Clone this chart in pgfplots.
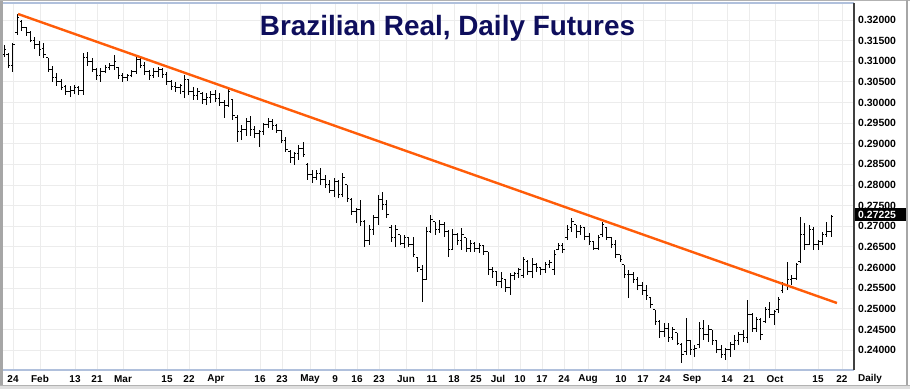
\documentclass[border=0pt]{standalone}
\usepackage{pgfplots}
\usepackage{pgfplotstable}
\pgfplotsset{compat=1.18}
\usepackage{fontspec}
\setmainfont{Liberation Sans}
\definecolor{navy}{RGB}{14,14,92}
\definecolor{trend}{RGB}{255,92,8}
\definecolor{gridc}{RGB}{236,236,236}
\definecolor{frameblue}{RGB}{176,192,220}
\pgfplotstableread{
i hi lo op cl
0 0.31394 0.31103 0.31152 0.31273
1 0.31200 0.30837 0.31152 0.30886
2 0.31442 0.30740 0.30886 0.31394
3 0.32146 0.31637 0.31685 0.32049
4 0.32000 0.31734 0.31952 0.31806
5 0.31830 0.31613 0.31806 0.31685
6 0.31734 0.31467 0.31685 0.31515
7 0.31588 0.31297 0.31515 0.31394
8 0.31491 0.31128 0.31394 0.31273
9 0.31442 0.31079 0.31321 0.31152
10 0.31079 0.30740 0.31079 0.30788
11 0.30886 0.30498 0.30788 0.30594
12 0.30715 0.30401 0.30594 0.30498
13 0.30570 0.30303 0.30498 0.30352
14 0.30425 0.30182 0.30376 0.30255
15 0.30401 0.30133 0.30255 0.30303
16 0.30425 0.30206 0.30303 0.30352
17 0.30401 0.30182 0.30352 0.30279
18 0.31200 0.30182 0.30303 0.31079
19 0.31225 0.30886 0.31079 0.30983
20 0.31079 0.30740 0.30983 0.30788
21 0.30837 0.30546 0.30788 0.30643
22 0.30837 0.30498 0.30643 0.30740
23 0.30910 0.30715 0.30740 0.30837
24 0.30958 0.30788 0.30837 0.30886
25 0.31152 0.30788 0.30886 0.30983
26 0.30861 0.30570 0.30837 0.30643
27 0.30715 0.30498 0.30643 0.30594
28 0.30691 0.30522 0.30594 0.30643
29 0.30788 0.30618 0.30643 0.30740
30 0.31128 0.30691 0.30740 0.31031
31 0.31079 0.30837 0.31031 0.30886
32 0.30983 0.30667 0.30886 0.30740
33 0.30788 0.30546 0.30740 0.30643
34 0.30837 0.30594 0.30643 0.30740
35 0.30861 0.30618 0.30740 0.30788
36 0.30837 0.30594 0.30788 0.30667
37 0.30740 0.30425 0.30667 0.30498
38 0.30546 0.30303 0.30498 0.30376
39 0.30498 0.30255 0.30376 0.30352
40 0.30449 0.30206 0.30352 0.30401
41 0.30667 0.30109 0.30255 0.30546
42 0.30546 0.30182 0.30546 0.30255
43 0.30376 0.30061 0.30255 0.30158
44 0.30352 0.30061 0.30158 0.30255
45 0.30255 0.29964 0.30230 0.30061
46 0.30230 0.29940 0.30061 0.30133
47 0.30279 0.29988 0.30133 0.30182
48 0.30303 0.30013 0.30182 0.30109
49 0.30230 0.29916 0.30109 0.29988
50 0.30061 0.29625 0.29988 0.29916
51 0.30352 0.29891 0.29916 0.30255
52 0.30061 0.29576 0.30061 0.29674
53 0.29698 0.29043 0.29625 0.29286
54 0.29455 0.29091 0.29286 0.29334
55 0.29625 0.29189 0.29334 0.29528
56 0.29674 0.29189 0.29528 0.29334
57 0.29431 0.29140 0.29334 0.29237
58 0.29334 0.28921 0.29237 0.29286
59 0.29503 0.29213 0.29286 0.29455
60 0.29625 0.29382 0.29455 0.29528
61 0.29601 0.29334 0.29528 0.29431
62 0.29479 0.29261 0.29431 0.29310
63 0.29334 0.29018 0.29310 0.29091
64 0.29164 0.28801 0.29091 0.28849
65 0.28849 0.28534 0.28801 0.28655
66 0.28801 0.28486 0.28655 0.28752
67 0.28970 0.28607 0.28752 0.28897
68 0.29043 0.28679 0.28897 0.28728
69 0.28534 0.28122 0.28486 0.28243
70 0.28364 0.28049 0.28243 0.28194
71 0.28364 0.28122 0.28194 0.28291
72 0.28413 0.28001 0.28291 0.28122
73 0.28243 0.27928 0.28122 0.28001
74 0.28122 0.27806 0.28001 0.27879
75 0.28170 0.27709 0.27879 0.28074
76 0.28122 0.27685 0.28074 0.27758
77 0.28291 0.27709 0.27758 0.28170
78 0.28001 0.27589 0.28001 0.27685
79 0.27685 0.27274 0.27637 0.27347
80 0.27443 0.27079 0.27347 0.27395
81 0.27637 0.27007 0.27395 0.27104
82 0.27152 0.26497 0.27104 0.26667
83 0.27031 0.26546 0.26667 0.26910
84 0.27274 0.26789 0.26910 0.27201
85 0.27758 0.27031 0.27201 0.27637
86 0.27831 0.27395 0.27637 0.27516
87 0.27637 0.27201 0.27516 0.27274
88 0.27031 0.26619 0.26958 0.26716
89 0.27031 0.26497 0.26716 0.26910
90 0.26789 0.26546 0.26789 0.26594
91 0.26789 0.26473 0.26594 0.26716
92 0.26740 0.26497 0.26716 0.26546
93 0.26740 0.26255 0.26546 0.26304
94 0.26231 0.25892 0.26231 0.25989
95 0.26062 0.25165 0.25940 0.25698
96 0.26982 0.25698 0.25698 0.26862
97 0.27274 0.26837 0.26862 0.27152
98 0.27104 0.26789 0.27104 0.26910
99 0.27152 0.26837 0.26910 0.27031
100 0.27104 0.26740 0.27031 0.26862
101 0.26910 0.26255 0.26862 0.26425
102 0.26934 0.26425 0.26425 0.26789
103 0.26837 0.26546 0.26789 0.26667
104 0.26958 0.26425 0.26667 0.26789
105 0.26716 0.26377 0.26716 0.26473
106 0.26667 0.26377 0.26473 0.26594
107 0.26619 0.26377 0.26594 0.26473
108 0.26594 0.26352 0.26473 0.26522
109 0.26546 0.26304 0.26522 0.26377
110 0.26377 0.25819 0.26377 0.25940
111 0.26013 0.25746 0.25940 0.25892
112 0.25892 0.25553 0.25892 0.25650
113 0.25892 0.25504 0.25650 0.25746
114 0.25698 0.25407 0.25698 0.25504
115 0.25867 0.25334 0.25504 0.25795
116 0.25892 0.25698 0.25795 0.25843
117 0.25989 0.25746 0.25843 0.25940
118 0.26255 0.25746 0.25795 0.26183
119 0.26183 0.25819 0.26135 0.25892
120 0.26231 0.25746 0.25892 0.26062
121 0.26110 0.25892 0.26062 0.25989
122 0.26013 0.25819 0.25989 0.25940
123 0.26135 0.25867 0.25940 0.26062
124 0.26183 0.25989 0.26062 0.26110
125 0.26425 0.25819 0.25940 0.26304
126 0.26594 0.26425 0.26425 0.26522
127 0.26594 0.26352 0.26522 0.26425
128 0.27031 0.26667 0.26716 0.26910
129 0.27201 0.26862 0.26958 0.27104
130 0.27031 0.26716 0.27031 0.26862
131 0.27031 0.26789 0.26862 0.26958
132 0.26958 0.26667 0.26958 0.26740
133 0.26837 0.26546 0.26740 0.26619
134 0.26619 0.26425 0.26619 0.26473
135 0.26789 0.26425 0.26473 0.26716
136 0.27104 0.26740 0.26789 0.27031
137 0.26982 0.26667 0.26958 0.26716
138 0.26740 0.26473 0.26716 0.26546
139 0.26667 0.26231 0.26546 0.26304
140 0.26304 0.26135 0.26304 0.26183
141 0.26062 0.25746 0.26062 0.25819
142 0.25940 0.25261 0.25819 0.25819
143 0.25892 0.25625 0.25819 0.25698
144 0.25770 0.25455 0.25698 0.25553
145 0.25650 0.25334 0.25553 0.25455
146 0.25577 0.25213 0.25455 0.25310
147 0.25285 0.25019 0.25285 0.25092
148 0.24971 0.24607 0.24971 0.24680
149 0.24728 0.24292 0.24680 0.24438
150 0.24655 0.24316 0.24438 0.24534
151 0.24655 0.24195 0.24534 0.24292
152 0.24558 0.24243 0.24292 0.24486
153 0.24413 0.24122 0.24413 0.24170
154 0.24170 0.23686 0.24122 0.23880
155 0.24777 0.23880 0.23953 0.24243
156 0.24243 0.23880 0.24243 0.24001
157 0.24122 0.23831 0.24001 0.24049
158 0.24680 0.24049 0.24122 0.24534
159 0.24728 0.24243 0.24534 0.24365
160 0.24607 0.24195 0.24365 0.24486
161 0.24486 0.24122 0.24486 0.24243
162 0.24243 0.23928 0.24243 0.24001
163 0.24122 0.23807 0.24001 0.23880
164 0.24049 0.23759 0.23880 0.24001
165 0.24195 0.23831 0.24001 0.24122
166 0.24365 0.24001 0.24122 0.24243
167 0.24438 0.24122 0.24243 0.24365
168 0.24486 0.24195 0.24365 0.24292
169 0.25213 0.24170 0.24292 0.24850
170 0.24898 0.24438 0.24850 0.24534
171 0.24801 0.24438 0.24534 0.24728
172 0.24777 0.24243 0.24728 0.24365
173 0.25043 0.24655 0.24680 0.24971
174 0.25165 0.24777 0.24971 0.24850
175 0.24971 0.24607 0.24850 0.24923
176 0.25285 0.24898 0.24971 0.25213
177 0.25650 0.25382 0.25455 0.25577
178 0.26135 0.25455 0.25577 0.25698
179 0.25819 0.25577 0.25698 0.25746
180 0.26110 0.25698 0.25746 0.26062
181 0.27225 0.26110 0.26135 0.26789
182 0.27079 0.26425 0.26789 0.26546
183 0.27031 0.26546 0.26546 0.26910
184 0.26982 0.26425 0.26910 0.26546
185 0.26667 0.26425 0.26546 0.26619
186 0.26862 0.26546 0.26619 0.26789
187 0.27104 0.26740 0.26789 0.26862
188 0.27274 0.26740 0.26862 0.27225
}\ohlc
\begin{document}
\begin{tikzpicture}
\useasboundingbox (0,0) rectangle (910bp,389bp);
\fill[white] (0,0) rectangle (910bp,389bp);
\begin{axis}[
  at={(3bp,19bp)}, anchor=south west,
  scale only axis, width=851bp, height=367bp,
  xmin=-0.23, xmax=193.18,
  ymin=0.23516, ymax=0.32412,
  axis line style={draw=none},
  major tick length=0pt,
  grid=major,
  major grid style={draw=gridc, line width=0.8bp},
  xtick={2.05,8.18,16.14,21.14,27.05,37.05,42.05,48.18,58.18,63.18,69.55,75.23,80.23,85.23,91.36,97.27,102.27,107.27,112.27,117.27,122.27,127.27,132.73,140.23,145.23,150.23,156.36,164.32,169.32,175.23,185.0,190.45},
  xticklabels={24,Feb,13,21,Mar,15,22,Apr,16,23,May,9,16,23,Jun,11,18,25,Jul,10,17,24,Aug,10,17,24,Sep,14,21,Oct,15,22},
  xticklabel style={font=\bfseries\fontsize{10}{12}\selectfont, anchor=center, yshift=-9bp, inner sep=0pt},
  ytick={0.24,0.245,0.25,0.255,0.26,0.265,0.27,0.275,0.28,0.285,0.29,0.295,0.30,0.305,0.31,0.315,0.32},
  yticklabel pos=right,
  yticklabel style={font=\bfseries\fontsize{10.5}{12}\selectfont, anchor=west, inner sep=0pt, xshift=4bp,
    /pgf/number format/.cd, fixed, fixed zerofill, precision=5, assume math mode=true},
]
\addplot[draw=black, line width=1bp, no markers, quiver={u=0, v=\thisrow{hi}-\thisrow{lo}}] table[x=i, y=lo] {\ohlc};
\addplot[draw=black, line width=1bp, no markers, quiver={u=-0.45, v=0}] table[x=i, y=op] {\ohlc};
\addplot[draw=black, line width=1bp, no markers, quiver={u=0.45, v=0}] table[x=i, y=cl] {\ohlc};
\addplot[draw=trend, line width=2.4bp, no markers] coordinates {(3.18,0.32146) (189.3,0.2514)};
\end{axis}
% frame
\draw[frameblue, line width=1.5bp] (3bp,386bp) -- (854bp,386bp);
\draw[frameblue, line width=1.5bp] (3bp,19bp) -- (854bp,19bp);
\draw[black!75, line width=1.2bp] (854bp,19bp) -- (854bp,386bp);
\draw[gray!70, line width=3bp] (1.5bp,0) -- (1.5bp,389bp);
\draw[gray!60, line width=1.2bp] (0,388.4bp) -- (910bp,388.4bp);
\draw[gray!70, line width=1.5bp] (907bp,0) -- (907bp,389bp);
\fill[gray!25] (0,0) rectangle (910bp,4bp);
\draw[gray!60, line width=0.8bp] (0,4bp) -- (910bp,4bp);
% title
\node[font=\bfseries\fontsize{28}{32}\selectfont, text=navy, inner sep=0pt] at (447.5bp,361bp) {Brazilian Real, Daily Futures};
% last price box
\node[fill=black, text=white, font=\bfseries\fontsize{10.5}{12}\selectfont, anchor=west, inner sep=0pt,
  minimum height=13bp, text width=51bp, align=left] at (855bp,174bp) {\hspace*{3bp}0.27225};
% Daily label
\node[font=\bfseries\fontsize{10}{12}\selectfont, inner sep=0pt] at (870bp,10bp) {Daily};
\end{tikzpicture}
\end{document}
